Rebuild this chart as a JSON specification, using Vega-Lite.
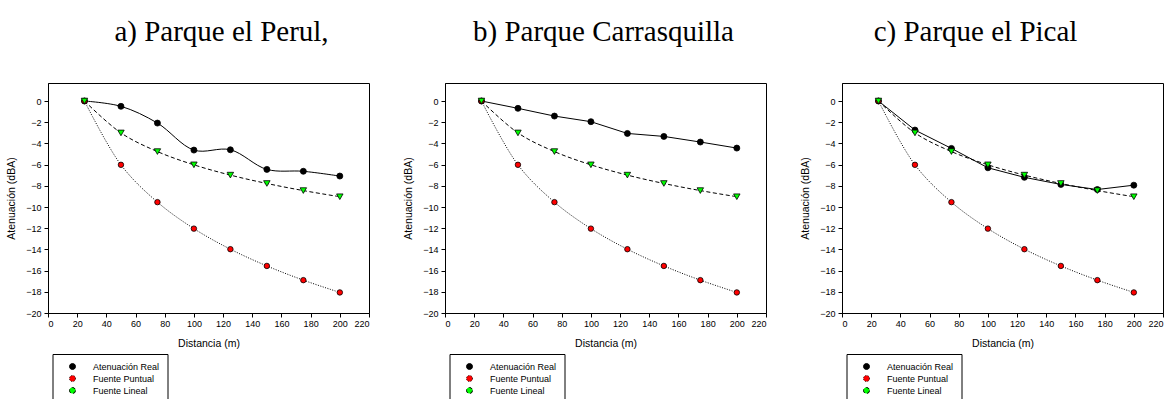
{
  "$schema": "https://vega.github.io/schema/vega-lite/v6.json",
  "background": "white",
  "padding": {"left": 6, "top": 17, "right": 0, "bottom": 0},
  "data": {"values": [
    {"panel": "a", "serie": "Atenuación Real", "d": 25, "at": 0},
    {"panel": "a", "serie": "Atenuación Real", "d": 50, "at": -0.5},
    {"panel": "a", "serie": "Atenuación Real", "d": 75, "at": -2.08},
    {"panel": "a", "serie": "Atenuación Real", "d": 100, "at": -4.63},
    {"panel": "a", "serie": "Atenuación Real", "d": 125, "at": -4.6},
    {"panel": "a", "serie": "Atenuación Real", "d": 150, "at": -6.45},
    {"panel": "a", "serie": "Atenuación Real", "d": 175, "at": -6.63},
    {"panel": "a", "serie": "Atenuación Real", "d": 200, "at": -7.08},
    {"panel": "a", "serie": "Fuente Puntual", "d": 25, "at": 0},
    {"panel": "a", "serie": "Fuente Puntual", "d": 50, "at": -6.02},
    {"panel": "a", "serie": "Fuente Puntual", "d": 75, "at": -9.54},
    {"panel": "a", "serie": "Fuente Puntual", "d": 100, "at": -12.04},
    {"panel": "a", "serie": "Fuente Puntual", "d": 125, "at": -13.98},
    {"panel": "a", "serie": "Fuente Puntual", "d": 150, "at": -15.56},
    {"panel": "a", "serie": "Fuente Puntual", "d": 175, "at": -16.9},
    {"panel": "a", "serie": "Fuente Puntual", "d": 200, "at": -18.06},
    {"panel": "a", "serie": "Fuente Lineal", "d": 25, "at": 0},
    {"panel": "a", "serie": "Fuente Lineal", "d": 50, "at": -3.01},
    {"panel": "a", "serie": "Fuente Lineal", "d": 75, "at": -4.77},
    {"panel": "a", "serie": "Fuente Lineal", "d": 100, "at": -6.02},
    {"panel": "a", "serie": "Fuente Lineal", "d": 125, "at": -6.99},
    {"panel": "a", "serie": "Fuente Lineal", "d": 150, "at": -7.78},
    {"panel": "a", "serie": "Fuente Lineal", "d": 175, "at": -8.45},
    {"panel": "a", "serie": "Fuente Lineal", "d": 200, "at": -9.03},
    {"panel": "b", "serie": "Atenuación Real", "d": 25, "at": 0},
    {"panel": "b", "serie": "Atenuación Real", "d": 50, "at": -0.69},
    {"panel": "b", "serie": "Atenuación Real", "d": 75, "at": -1.42},
    {"panel": "b", "serie": "Atenuación Real", "d": 100, "at": -1.95},
    {"panel": "b", "serie": "Atenuación Real", "d": 125, "at": -3.06},
    {"panel": "b", "serie": "Atenuación Real", "d": 150, "at": -3.34},
    {"panel": "b", "serie": "Atenuación Real", "d": 175, "at": -3.87},
    {"panel": "b", "serie": "Atenuación Real", "d": 200, "at": -4.44},
    {"panel": "b", "serie": "Fuente Puntual", "d": 25, "at": 0},
    {"panel": "b", "serie": "Fuente Puntual", "d": 50, "at": -6.02},
    {"panel": "b", "serie": "Fuente Puntual", "d": 75, "at": -9.54},
    {"panel": "b", "serie": "Fuente Puntual", "d": 100, "at": -12.04},
    {"panel": "b", "serie": "Fuente Puntual", "d": 125, "at": -13.98},
    {"panel": "b", "serie": "Fuente Puntual", "d": 150, "at": -15.56},
    {"panel": "b", "serie": "Fuente Puntual", "d": 175, "at": -16.9},
    {"panel": "b", "serie": "Fuente Puntual", "d": 200, "at": -18.06},
    {"panel": "b", "serie": "Fuente Lineal", "d": 25, "at": 0},
    {"panel": "b", "serie": "Fuente Lineal", "d": 50, "at": -3.01},
    {"panel": "b", "serie": "Fuente Lineal", "d": 75, "at": -4.77},
    {"panel": "b", "serie": "Fuente Lineal", "d": 100, "at": -6.02},
    {"panel": "b", "serie": "Fuente Lineal", "d": 125, "at": -6.99},
    {"panel": "b", "serie": "Fuente Lineal", "d": 150, "at": -7.78},
    {"panel": "b", "serie": "Fuente Lineal", "d": 175, "at": -8.45},
    {"panel": "b", "serie": "Fuente Lineal", "d": 200, "at": -9.03},
    {"panel": "c", "serie": "Atenuación Real", "d": 25, "at": 0},
    {"panel": "c", "serie": "Atenuación Real", "d": 50, "at": -2.74},
    {"panel": "c", "serie": "Atenuación Real", "d": 75, "at": -4.47},
    {"panel": "c", "serie": "Atenuación Real", "d": 100, "at": -6.3},
    {"panel": "c", "serie": "Atenuación Real", "d": 125, "at": -7.2},
    {"panel": "c", "serie": "Atenuación Real", "d": 150, "at": -7.87},
    {"panel": "c", "serie": "Atenuación Real", "d": 175, "at": -8.35},
    {"panel": "c", "serie": "Atenuación Real", "d": 200, "at": -7.94},
    {"panel": "c", "serie": "Fuente Puntual", "d": 25, "at": 0},
    {"panel": "c", "serie": "Fuente Puntual", "d": 50, "at": -6.02},
    {"panel": "c", "serie": "Fuente Puntual", "d": 75, "at": -9.54},
    {"panel": "c", "serie": "Fuente Puntual", "d": 100, "at": -12.04},
    {"panel": "c", "serie": "Fuente Puntual", "d": 125, "at": -13.98},
    {"panel": "c", "serie": "Fuente Puntual", "d": 150, "at": -15.56},
    {"panel": "c", "serie": "Fuente Puntual", "d": 175, "at": -16.9},
    {"panel": "c", "serie": "Fuente Puntual", "d": 200, "at": -18.06},
    {"panel": "c", "serie": "Fuente Lineal", "d": 25, "at": 0},
    {"panel": "c", "serie": "Fuente Lineal", "d": 50, "at": -3.01},
    {"panel": "c", "serie": "Fuente Lineal", "d": 75, "at": -4.77},
    {"panel": "c", "serie": "Fuente Lineal", "d": 100, "at": -6.02},
    {"panel": "c", "serie": "Fuente Lineal", "d": 125, "at": -6.99},
    {"panel": "c", "serie": "Fuente Lineal", "d": 150, "at": -7.78},
    {"panel": "c", "serie": "Fuente Lineal", "d": 175, "at": -8.45},
    {"panel": "c", "serie": "Fuente Lineal", "d": 200, "at": -9.03}
  ]},
  "spacing": 76,
  "bounds": "flush",
  "resolve": {"scale": {"shape": "independent", "fill": "independent", "strokeDash": "independent", "size": "independent"}, "legend": {"shape": "independent", "fill": "independent", "strokeDash": "independent", "size": "independent"}},
  "hconcat": [
    {
      "width": 321, "height": 230,
      "title": {"text": "a) Parque el Perul,", "dx": 13},
      "transform": [{"filter": "datum.panel === 'a'"}],
      "encoding": {
        "x": {"field": "d", "type": "quantitative", "scale": {"domain": [0, 220], "nice": false}, "axis": {"values": [0, 20, 40, 60, 80, 100, 120, 140, 160, 180, 200, 220], "title": "Distancia (m)"}},
        "y": {"field": "at", "type": "quantitative", "scale": {"domain": [-20, 1.7], "nice": false, "zero": false}, "axis": {"values": [-20, -18, -16, -14, -12, -10, -8, -6, -4, -2, 0], "title": "Atenuación (dBA)"}}
      },
      "layer": [
        {"transform": [{"filter": "datum.serie !== 'Atenuación Real'"}], "mark": {"type": "line", "interpolate": "catmull-rom", "color": "black", "strokeWidth": 1},
         "encoding": {"strokeDash": {"field": "serie", "type": "nominal", "scale": {"domain": ["Atenuación Real", "Fuente Puntual", "Fuente Lineal"], "range": [[1, 0], [1, 1.5], [4, 2.5]]}}}},
        {"transform": [{"filter": "datum.serie === 'Atenuación Real'"}], "mark": {"type": "line", "interpolate": "catmull-rom", "color": "black", "strokeWidth": 1}, "encoding": {}},
        {"mark": {"type": "point", "filled": true, "stroke": "black", "strokeWidth": 0.8, "opacity": 1},
         "encoding": {
           "size": {"field": "serie", "type": "nominal", "scale": {"domain": ["Fuente Lineal", "Atenuación Real", "Fuente Puntual"], "range": [42, 30, 30]}, "legend": null},
           "shape": {"field": "serie", "type": "nominal", "scale": {"domain": ["Fuente Lineal", "Atenuación Real", "Fuente Puntual"], "range": ["triangle-down", "circle", "circle"]}, "legend": null},
           "fill": {"field": "serie", "type": "nominal", "scale": {"domain": ["Atenuación Real", "Fuente Puntual", "Fuente Lineal"], "range": ["black", "#ff0000", "#00ff00"]},
             "legend": {"orient": "none", "legendX": 4.5, "legendY": 271, "title": null, "encode": {"symbols": {
               "shape": {"value": {"expr": "datum.value === 'Fuente Lineal' ? 'M-3.8,0H-1M1,0H3.8M-1,-0.8L1,-0.8L0,1Z' : 'M-3.8,0H-0.8M0.8,0H3.8M0.8,0A0.8,0.8 0 1,1 -0.8,0A0.8,0.8 0 1,1 0.8,0Z'"}},
               "stroke": {"value": "black"}, "strokeWidth": {"value": 0.9}, "size": {"value": 36}}}}}
         }}
      ]
    },
    {
      "width": 321, "height": 230,
      "title": {"text": "b) Parque Carrasquilla", "dx": -2},
      "transform": [{"filter": "datum.panel === 'b'"}],
      "encoding": {
        "x": {"field": "d", "type": "quantitative", "scale": {"domain": [0, 220], "nice": false}, "axis": {"values": [0, 20, 40, 60, 80, 100, 120, 140, 160, 180, 200, 220], "title": "Distancia (m)"}},
        "y": {"field": "at", "type": "quantitative", "scale": {"domain": [-20, 1.7], "nice": false, "zero": false}, "axis": {"values": [-20, -18, -16, -14, -12, -10, -8, -6, -4, -2, 0], "title": "Atenuación (dBA)"}}
      },
      "layer": [
        {"transform": [{"filter": "datum.serie !== 'Atenuación Real'"}], "mark": {"type": "line", "interpolate": "catmull-rom", "color": "black", "strokeWidth": 1},
         "encoding": {"strokeDash": {"field": "serie", "type": "nominal", "scale": {"domain": ["Atenuación Real", "Fuente Puntual", "Fuente Lineal"], "range": [[1, 0], [1, 1.5], [4, 2.5]]}}}},
        {"transform": [{"filter": "datum.serie === 'Atenuación Real'"}], "mark": {"type": "line", "color": "black", "strokeWidth": 1}, "encoding": {}},
        {"mark": {"type": "point", "filled": true, "stroke": "black", "strokeWidth": 0.8, "opacity": 1},
         "encoding": {
           "size": {"field": "serie", "type": "nominal", "scale": {"domain": ["Fuente Lineal", "Atenuación Real", "Fuente Puntual"], "range": [42, 30, 30]}, "legend": null},
           "shape": {"field": "serie", "type": "nominal", "scale": {"domain": ["Fuente Lineal", "Atenuación Real", "Fuente Puntual"], "range": ["triangle-down", "circle", "circle"]}, "legend": null},
           "fill": {"field": "serie", "type": "nominal", "scale": {"domain": ["Atenuación Real", "Fuente Puntual", "Fuente Lineal"], "range": ["black", "#ff0000", "#00ff00"]},
             "legend": {"orient": "none", "legendX": 4.5, "legendY": 271, "title": null, "encode": {"symbols": {
               "shape": {"value": {"expr": "datum.value === 'Fuente Lineal' ? 'M-3.8,0H-1M1,0H3.8M-1,-0.8L1,-0.8L0,1Z' : 'M-3.8,0H-0.8M0.8,0H3.8M0.8,0A0.8,0.8 0 1,1 -0.8,0A0.8,0.8 0 1,1 0.8,0Z'"}},
               "stroke": {"value": "black"}, "strokeWidth": {"value": 0.9}, "size": {"value": 36}}}}}
         }}
      ]
    },
    {
      "width": 321, "height": 230,
      "title": {"text": "c) Parque el Pical", "dx": -27},
      "transform": [{"filter": "datum.panel === 'c'"}],
      "encoding": {
        "x": {"field": "d", "type": "quantitative", "scale": {"domain": [0, 220], "nice": false}, "axis": {"values": [0, 20, 40, 60, 80, 100, 120, 140, 160, 180, 200, 220], "title": "Distancia (m)"}},
        "y": {"field": "at", "type": "quantitative", "scale": {"domain": [-20, 1.7], "nice": false, "zero": false}, "axis": {"values": [-20, -18, -16, -14, -12, -10, -8, -6, -4, -2, 0], "title": "Atenuación (dBA)"}}
      },
      "layer": [
        {"transform": [{"filter": "datum.serie !== 'Atenuación Real'"}], "mark": {"type": "line", "interpolate": "catmull-rom", "color": "black", "strokeWidth": 1},
         "encoding": {"strokeDash": {"field": "serie", "type": "nominal", "scale": {"domain": ["Atenuación Real", "Fuente Puntual", "Fuente Lineal"], "range": [[1, 0], [1, 1.5], [4, 2.5]]}}}},
        {"transform": [{"filter": "datum.serie === 'Atenuación Real'"}], "mark": {"type": "line", "color": "black", "strokeWidth": 1}, "encoding": {}},
        {"mark": {"type": "point", "filled": true, "stroke": "black", "strokeWidth": 0.8, "opacity": 1},
         "encoding": {
           "size": {"field": "serie", "type": "nominal", "scale": {"domain": ["Fuente Lineal", "Atenuación Real", "Fuente Puntual"], "range": [42, 30, 30]}, "legend": null},
           "shape": {"field": "serie", "type": "nominal", "scale": {"domain": ["Fuente Lineal", "Atenuación Real", "Fuente Puntual"], "range": ["triangle-down", "circle", "circle"]}, "legend": null},
           "fill": {"field": "serie", "type": "nominal", "scale": {"domain": ["Atenuación Real", "Fuente Puntual", "Fuente Lineal"], "range": ["black", "#ff0000", "#00ff00"]},
             "legend": {"orient": "none", "legendX": 4.5, "legendY": 271, "title": null, "encode": {"symbols": {
               "shape": {"value": {"expr": "datum.value === 'Fuente Lineal' ? 'M-3.8,0H-1M1,0H3.8M-1,-0.8L1,-0.8L0,1Z' : 'M-3.8,0H-0.8M0.8,0H3.8M0.8,0A0.8,0.8 0 1,1 -0.8,0A0.8,0.8 0 1,1 0.8,0Z'"}},
               "stroke": {"value": "black"}, "strokeWidth": {"value": 0.9}, "size": {"value": 36}}}}}
         }}
      ]
    }
  ],
  "config": {
    "font": "Liberation Sans",
    "view": {"stroke": "black", "strokeWidth": 1},
    "title": {"font": "Liberation Serif", "fontSize": 29, "fontWeight": "normal", "color": "black", "anchor": "middle", "frame": "group", "baseline": "alphabetic", "offset": 36},
    "axis": {"grid": false, "domainColor": "black", "tickColor": "black", "tickSize": 4, "labelColor": "black", "labelFont": "Liberation Sans", "labelFontSize": 9, "titleColor": "black", "titleFont": "Liberation Sans", "titleFontSize": 10.5, "titleFontWeight": "normal"},
    "axisX": {"labelPadding": 2, "titlePadding": 10},
    "axisY": {"labelPadding": 3, "titlePadding": 9},
    "legend": {"strokeColor": "black", "padding": 8, "symbolSize": 36, "symbolOffset": 7.5, "labelOffset": 16, "labelFontSize": 9, "labelFont": "Liberation Sans", "labelColor": "black", "rowPadding": 1, "symbolStrokeColor": "black", "symbolStrokeWidth": 1}
  }
}
